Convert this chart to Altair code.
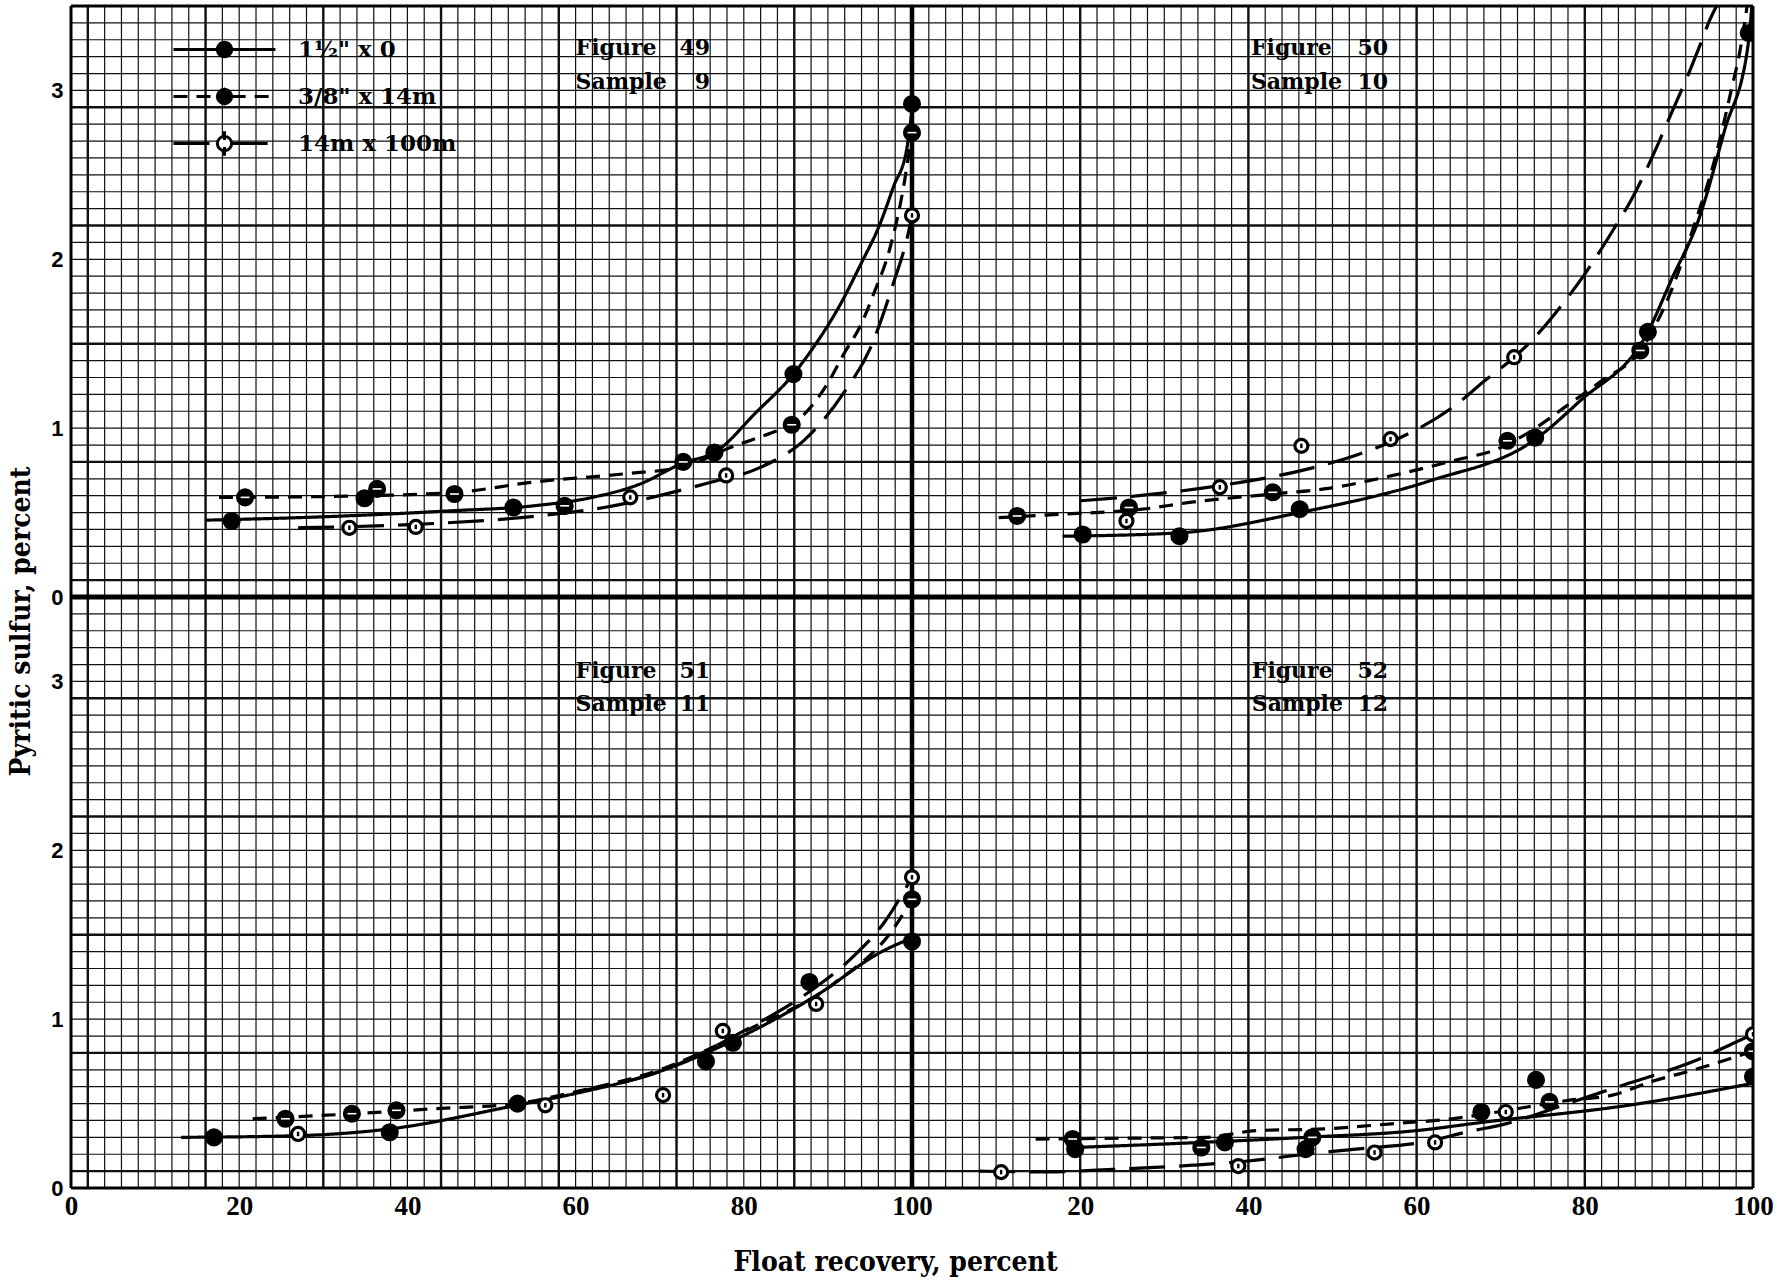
import altair as alt
import numpy as np
import pandas as pd

# ---------------------------------------------------------------------------
# Series (size fractions) and panel captions
# ---------------------------------------------------------------------------
SERIES = ['1½" x 0', '3/8" x 14m', '14m x 100m']
FIGURES = ["49", "50", "51", "52"]
SAMPLES = ["9", "10", "11", "12"]

# ---- Figure 49, Sample 9 -------------------------------------------------
f49_pts_a_x = [19.1, 34.9, 52.6, 76.5, 85.9, 100.0]
f49_pts_a_y = [0.45, 0.585, 0.53, 0.855, 1.32, 2.92]
f49_pts_b_x = [20.7, 36.4, 45.6, 58.7, 72.8, 85.7, 100.0]
f49_pts_b_y = [0.59, 0.64, 0.61, 0.54, 0.80, 1.02, 2.75]
f49_pts_c_x = [33.1, 41.0, 66.5, 77.9, 100.0]
f49_pts_c_y = [0.41, 0.415, 0.59, 0.72, 2.26]
f49_crv_a_x = [16, 30, 45, 55, 62, 67.7, 72.6, 76.8, 81.4, 85.9, 88.3, 91.5, 93.9, 96.2, 97.8, 99.4, 100]
f49_crv_a_y = [0.455, 0.475, 0.51, 0.54, 0.59, 0.67, 0.79, 0.865, 1.09, 1.32, 1.48, 1.735, 1.97, 2.21, 2.43, 2.66, 2.88]
f49_crv_b_x = [17.6, 30, 45.8, 54.9, 65.9, 72.8, 78.4, 83.4, 85.7, 89.9, 91.9, 94.0, 95.4, 97.4, 99.0, 100]
f49_crv_b_y = [0.59, 0.595, 0.62, 0.68, 0.73, 0.77, 0.885, 0.974, 1.02, 1.26, 1.44, 1.62, 1.79, 2.07, 2.43, 2.75]
f49_crv_c_x = [27, 41, 55.5, 63.4, 73.1, 76, 81.9, 87.1, 91.9, 95.1, 97.6, 99.8, 100]
f49_crv_c_y = [0.41, 0.43, 0.48, 0.53, 0.64, 0.678, 0.766, 0.925, 1.21, 1.48, 1.83, 2.21, 2.26]

# ---- Figure 50, Sample 10 ------------------------------------------------
f50_pts_a_x = [20.3, 31.8, 46.1, 74.1, 87.5, 99.5]
f50_pts_a_y = [0.37, 0.36, 0.52, 0.944, 1.57, 3.34]
f50_pts_b_x = [12.5, 25.8, 42.9, 70.8, 86.6]
f50_pts_b_y = [0.48, 0.53, 0.62, 0.925, 1.46]
f50_pts_c_x = [25.5, 36.6, 46.3, 56.9, 71.6]
f50_pts_c_y = [0.45, 0.65, 0.895, 0.935, 1.42]
f50_crv_a_x = [17.9, 31.8, 46.1, 61.7, 74.0, 79.4, 87.5, 90.4, 93.5, 96.6, 99.5, 100.0]
f50_crv_a_y = [0.36, 0.38, 0.50, 0.69, 0.93, 1.16, 1.57, 1.89, 2.23, 2.76, 3.3, 3.6]
f50_crv_b_x = [10.3, 17.6, 27.4, 33.0, 42.9, 49.0, 57.2, 65.4, 69.3, 72.5, 75.3, 77.5, 82.0, 86.6, 90.0, 93.0, 95.5, 97.5, 98.4, 99.3]
f50_crv_b_y = [0.47, 0.49, 0.52, 0.56, 0.61, 0.64, 0.72, 0.82, 0.87, 0.95, 1.04, 1.12, 1.28, 1.46, 1.78, 2.2, 2.6, 3.02, 3.22, 3.5]
f50_crv_c_x = [20.1, 27.0, 36.6, 46.4, 52.8, 57.9, 64.2, 68.1, 71.6, 73.9, 77.9, 80.1, 83.7, 85.5, 88.6, 89.9, 92.6, 93.8, 94.8, 96.2]
f50_crv_c_y = [0.57, 0.60, 0.66, 0.75, 0.84, 0.94, 1.12, 1.28, 1.42, 1.53, 1.77, 1.92, 2.2, 2.35, 2.67, 2.82, 3.13, 3.28, 3.41, 3.55]

# ---- Figure 51, Sample 11 ------------------------------------------------
f51_pts_a_x = [17.0, 37.9, 53.1, 75.5, 78.7, 87.8, 100.0]
f51_pts_a_y = [0.30, 0.33, 0.50, 0.75, 0.86, 1.22, 1.46]
f51_pts_b_x = [25.5, 33.4, 38.7, 100.0]
f51_pts_b_y = [0.41, 0.44, 0.46, 1.71]
f51_pts_c_x = [27.0, 56.4, 70.4, 77.5, 88.6, 100.0]
f51_pts_c_y = [0.32, 0.49, 0.55, 0.93, 1.09, 1.84]
f51_crv_a_x = [13.1, 27.0, 37.9, 53.0, 60.0, 70.0, 78.6, 88.3, 96.8, 100.0]
f51_crv_a_y = [0.30, 0.31, 0.35, 0.49, 0.56, 0.69, 0.87, 1.13, 1.41, 1.48]
f51_crv_b_x = [21.6, 33.7, 43.4, 53.0, 60.0, 70.0, 81.0, 90.7, 98.0, 100.0]
f51_crv_b_y = [0.41, 0.44, 0.47, 0.50, 0.57, 0.70, 0.95, 1.21, 1.55, 1.71]
f51_crv_c_x = [60.0, 70.0, 80.0, 88.0, 93.0, 96.8, 100.0]
f51_crv_c_y = [0.57, 0.69, 0.93, 1.17, 1.37, 1.58, 1.84]

# ---- Figure 52, Sample 12 ------------------------------------------------
f52_pts_a_x = [19.4, 37.2, 46.8, 67.7, 74.2, 100.0]
f52_pts_a_y = [0.23, 0.27, 0.23, 0.45, 0.64, 0.66]
f52_pts_b_x = [19.1, 34.4, 47.6, 75.8, 100.0]
f52_pts_b_y = [0.29, 0.24, 0.30, 0.51, 0.81]
f52_pts_c_x = [10.6, 38.8, 55.0, 62.2, 70.6, 100.0]
f52_pts_c_y = [0.094, 0.13, 0.21, 0.27, 0.45, 0.91]
f52_crv_a_x = [19.4, 34.4, 46.8, 60.0, 68.0, 85.2, 100.0]
f52_crv_a_y = [0.24, 0.27, 0.30, 0.34, 0.39, 0.49, 0.62]
f52_crv_b_x = [14.7, 25.0, 34.9, 41.0, 49.0, 57.0, 64.2, 69.6, 78.2, 83.3, 87.9, 93.0, 100.0]
f52_crv_b_y = [0.29, 0.295, 0.30, 0.34, 0.35, 0.38, 0.41, 0.45, 0.52, 0.55, 0.63, 0.70, 0.81]
f52_crv_c_x = [8.0, 15.6, 23.9, 33.4, 40.0, 46.8, 52.8, 61.7, 65.8, 70.6, 78.0, 85.2, 89.6, 93.4, 97.8, 100.0]
f52_crv_c_y = [0.10, 0.095, 0.11, 0.135, 0.16, 0.20, 0.23, 0.28, 0.33, 0.38, 0.50, 0.62, 0.69, 0.76, 0.86, 0.91]

# ---------------------------------------------------------------------------
# Layout: the four sheets share one coordinate frame (x 0-200, y 0-7)
# ---------------------------------------------------------------------------
PANEL_DX = [0, 100, 0, 100]
PANEL_DY = [3.5, 3.5, 0, 0]
CAPTION_LEFT = [60.0, 40.3, 60.0, 40.4]
CAPTION_RIGHT = [76.0, 56.6, 76.0, 56.6]
FIGURE_ROW = [3.25, 3.25, 3.06, 3.06]
SAMPLE_ROW = [3.05, 3.05, 2.865, 2.865]

PTS = [
    [(f49_pts_a_x, f49_pts_a_y), (f49_pts_b_x, f49_pts_b_y), (f49_pts_c_x, f49_pts_c_y)],
    [(f50_pts_a_x, f50_pts_a_y), (f50_pts_b_x, f50_pts_b_y), (f50_pts_c_x, f50_pts_c_y)],
    [(f51_pts_a_x, f51_pts_a_y), (f51_pts_b_x, f51_pts_b_y), (f51_pts_c_x, f51_pts_c_y)],
    [(f52_pts_a_x, f52_pts_a_y), (f52_pts_b_x, f52_pts_b_y), (f52_pts_c_x, f52_pts_c_y)],
]
CRV = [
    [(f49_crv_a_x, f49_crv_a_y), (f49_crv_b_x, f49_crv_b_y), (f49_crv_c_x, f49_crv_c_y)],
    [(f50_crv_a_x, f50_crv_a_y), (f50_crv_b_x, f50_crv_b_y), (f50_crv_c_x, f50_crv_c_y)],
    [(f51_crv_a_x, f51_crv_a_y), (f51_crv_b_x, f51_crv_b_y), (f51_crv_c_x, f51_crv_c_y)],
    [(f52_crv_a_x, f52_crv_a_y), (f52_crv_b_x, f52_crv_b_y), (f52_crv_c_x, f52_crv_c_y)],
]

pt_rows, ln_rows, cap_rows, num_rows = [], [], [], []
for p in range(4):
    dx, dy = PANEL_DX[p], PANEL_DY[p]
    for s in range(3):
        xs, ys = PTS[p][s]
        for x, y in zip(xs, ys):
            pt_rows.append({"x": x + dx, "y": y + dy, "series": SERIES[s]})
        xs, ys = CRV[p][s]
        for i, (x, y) in enumerate(zip(xs, ys)):
            ln_rows.append({"x": x + dx, "y": y + dy, "series": SERIES[s],
                            "curve": f"{FIGURES[p]}-{s}", "i": i})
    cap_rows.append({"x": CAPTION_LEFT[p] + dx, "y": FIGURE_ROW[p] + dy, "t": "Figure"})
    cap_rows.append({"x": CAPTION_LEFT[p] + dx, "y": SAMPLE_ROW[p] + dy, "t": "Sample"})
    num_rows.append({"x": CAPTION_RIGHT[p] + dx, "y": FIGURE_ROW[p] + dy, "t": FIGURES[p]})
    num_rows.append({"x": CAPTION_RIGHT[p] + dx, "y": SAMPLE_ROW[p] + dy, "t": SAMPLES[p]})

points = pd.DataFrame(pt_rows)
lines = pd.DataFrame(ln_rows)
captions = pd.DataFrame(cap_rows)
numbers = pd.DataFrame(num_rows)
legend_items = pd.DataFrame({"series": SERIES})

# Graph-paper rulings
minor_v = np.arange(0, 200.01, 2.0)
minor_h = np.round(np.arange(0, 7.001, 0.1), 3)
medium_v = [2, 16, 30, 44, 58, 72, 86, 120, 140, 160, 180]
medium_h = [round(v + off, 3) for off in (0.0, 3.5) for v in (0.1, 0.8, 1.5, 2.2, 2.9)]
frame_v = [0, 200]
frame_h = [0, 7]

X_SCALE = alt.Scale(domain=[0, 200], nice=False, zero=False)
Y_SCALE = alt.Scale(domain=[0, 7], nice=False, zero=False)
FILL_SCALE = alt.Scale(domain=SERIES, range=["black", "black", "white"])
DASH_SCALE = alt.Scale(domain=SERIES, range=[[1, 0], [14, 9], [36, 14]])

# Key glyphs: a line with the marker in its middle.  The ring is split into
# short arcs so that the dash pattern never opens a gap in it.
R = 0.42
SIDES = f"M-3,0H-{R}M{R},0H3"
QUARTERS = (f"M{R},0A{R},{R},0,0,1,0,{R}M0,{R}A{R},{R},0,0,1,-{R},0"
            f"M-{R},0A{R},{R},0,0,1,0,-{R}M0,-{R}A{R},{R},0,0,1,{R},0"
            f"M{R},0L0,{R}L-{R},0L0,-{R}Z")
HALVES = f"M{R},0A{R},{R},0,0,1,-{R},0M-{R},0A{R},{R},0,0,1,{R},0"
LEG_A = SIDES + HALVES
LEG_B = SIDES + QUARTERS
LEG_C = SIDES + HALVES + "M0,-0.72V-0.2M0,0.2V0.72"
SHAPE_SCALE = alt.Scale(domain=SERIES, range=[LEG_A, LEG_B, LEG_C])

TITLE_FONT = "DejaVu Serif Condensed"

X_AXIS = alt.Axis(
    values=list(range(0, 201, 20)),
    labelExpr="datum.value > 100 ? datum.value - 100 : datum.value",
    title="Float recovery, percent",
    titleFont=TITLE_FONT, titleFontSize=28, titleFontWeight="bold",
    titleColor="black", titleX=824, titleY=74, titleAlign="center",
    titleBaseline="middle",
    labelFont="Liberation Sans Narrow", labelFontSize=27, labelFontWeight="bold",
    labelColor="black", labelPadding=5, labelBaseline="top",
    labelOverlap=False, labelFlush=False,
    ticks=False, domain=False, grid=False,
)
Y_AXIS = alt.Axis(
    values=[0, 1, 2, 3, 3.5, 4.5, 5.5, 6.5],
    labelExpr="datum.value >= 3.5 ? datum.value - 3.5 : datum.value",
    title="Pyritic sulfur, percent",
    titleFont=TITLE_FONT, titleFontSize=28, titleFontWeight="bold",
    titleColor="black", titleX=-50, titleY=615, titleAngle=270,
    titleAlign="center", titleBaseline="middle",
    labelFont="Liberation Sans", labelFontSize=22, labelFontWeight="bold",
    labelColor="black", labelPadding=8, labelOverlap=False,
    ticks=False, domain=False, grid=False,
)

LEGEND = alt.Legend(
    title=None, orient="none", legendX=135, legendY=25, direction="vertical",
    labelFont="DejaVu Serif", labelFontSize=23, labelFontWeight="bold",
    labelColor="black", labelOffset=55, labelLimit=400, symbolSize=1156,
    symbolStrokeWidth=3, symbolStrokeColor="black", symbolFillColor="white",
    symbolOpacity=1, rowPadding=15, padding=0,
)


def px(field):
    return alt.X(f"{field}:Q", scale=X_SCALE, axis=X_AXIS)


def py(field):
    return alt.Y(f"{field}:Q", scale=Y_SCALE, axis=Y_AXIS)


def pfill():
    return alt.Fill("series:N", scale=FILL_SCALE, legend=LEGEND)


def pdash():
    return alt.StrokeDash("series:N", scale=DASH_SCALE, legend=LEGEND)


INK = "#111111"

grid_minor_v = alt.Chart(pd.DataFrame({"x": minor_v})).mark_rule(
    color=INK, strokeWidth=1.2).encode(x=px("x"))
grid_minor_h = alt.Chart(pd.DataFrame({"y": minor_h})).mark_rule(
    color=INK, strokeWidth=1.2).encode(y=py("y"))
grid_mid_v = alt.Chart(pd.DataFrame({"x": medium_v})).mark_rule(
    color=INK, strokeWidth=2.4).encode(x=px("x"))
grid_mid_h = alt.Chart(pd.DataFrame({"y": medium_h})).mark_rule(
    color=INK, strokeWidth=2.4).encode(y=py("y"))
frame_x = alt.Chart(pd.DataFrame({"x": frame_v})).mark_rule(
    color="black", strokeWidth=3).encode(x=px("x"))
frame_y = alt.Chart(pd.DataFrame({"y": frame_h})).mark_rule(
    color="black", strokeWidth=3).encode(y=py("y"))
split_x = alt.Chart(pd.DataFrame({"x": [100]})).mark_rule(
    color="black", strokeWidth=4.5).encode(x=px("x"))
split_y = alt.Chart(pd.DataFrame({"y": [3.5]})).mark_rule(
    color="black", strokeWidth=5).encode(y=py("y"))

curves = alt.Chart(lines).mark_line(
    color="black", strokeWidth=3.2, interpolate="monotone", clip=True).encode(
    x=px("x"), y=py("y"), detail="curve:N", order="i:Q", strokeDash=pdash())

dots_solid = alt.Chart(points).transform_filter(
    alt.datum.series != SERIES[2]).mark_point(
    shape="circle", filled=True, size=260, stroke="black", strokeWidth=2,
    opacity=1, clip=True).encode(x=px("x"), y=py("y"), fill=pfill())
dots_open = alt.Chart(points).transform_filter(
    alt.datum.series == SERIES[2]).mark_point(
    shape="circle", filled=True, size=170, stroke="black", strokeWidth=3.2,
    opacity=1, clip=True).encode(x=px("x"), y=py("y"), fill=pfill())
bar_b = alt.Chart(points).transform_filter(
    alt.datum.series == SERIES[1]).mark_point(
    shape="stroke", color="white", strokeWidth=1.6, size=80, opacity=1,
    clip=True).encode(x=px("x"), y=py("y"))
bar_c = alt.Chart(points).transform_filter(
    alt.datum.series == SERIES[2]).mark_point(
    shape="stroke", angle=90, color="black", strokeWidth=2.4, size=20, opacity=1,
    clip=True).encode(x=px("x"), y=py("y"))

cap_text = alt.Chart(captions).mark_text(
    font="DejaVu Serif", fontSize=22, fontWeight="bold", align="left",
    baseline="middle", color="black").encode(x=px("x"), y=py("y"), text="t:N")
num_text = alt.Chart(numbers).mark_text(
    font="DejaVu Serif", fontSize=22, fontWeight="bold", align="right",
    baseline="middle", color="black").encode(x=px("x"), y=py("y"), text="t:N")

# Key: carries the legend only, its own marks are transparent
key = alt.Chart(legend_items).mark_point(
    filled=True, stroke="black", opacity=0).encode(
    fill=pfill(),
    shape=alt.Shape("series:N", scale=SHAPE_SCALE, legend=LEGEND),
    strokeDash=pdash(),
)

chart = alt.layer(
    grid_minor_v, grid_minor_h, grid_mid_v, grid_mid_h,
    frame_x, frame_y, split_x, split_y,
    curves, dots_solid, dots_open, bar_b, bar_c,
    cap_text, num_text, key,
).properties(
    width=1682, height=1182,
    autosize=alt.AutoSizeParams(type="none"),
    padding={"left": 71, "top": 6, "right": 34, "bottom": 94},
    background="white",
).configure_view(stroke=None)

chart.save("out.html", embed_options={"renderer": "svg", "actions": False})
